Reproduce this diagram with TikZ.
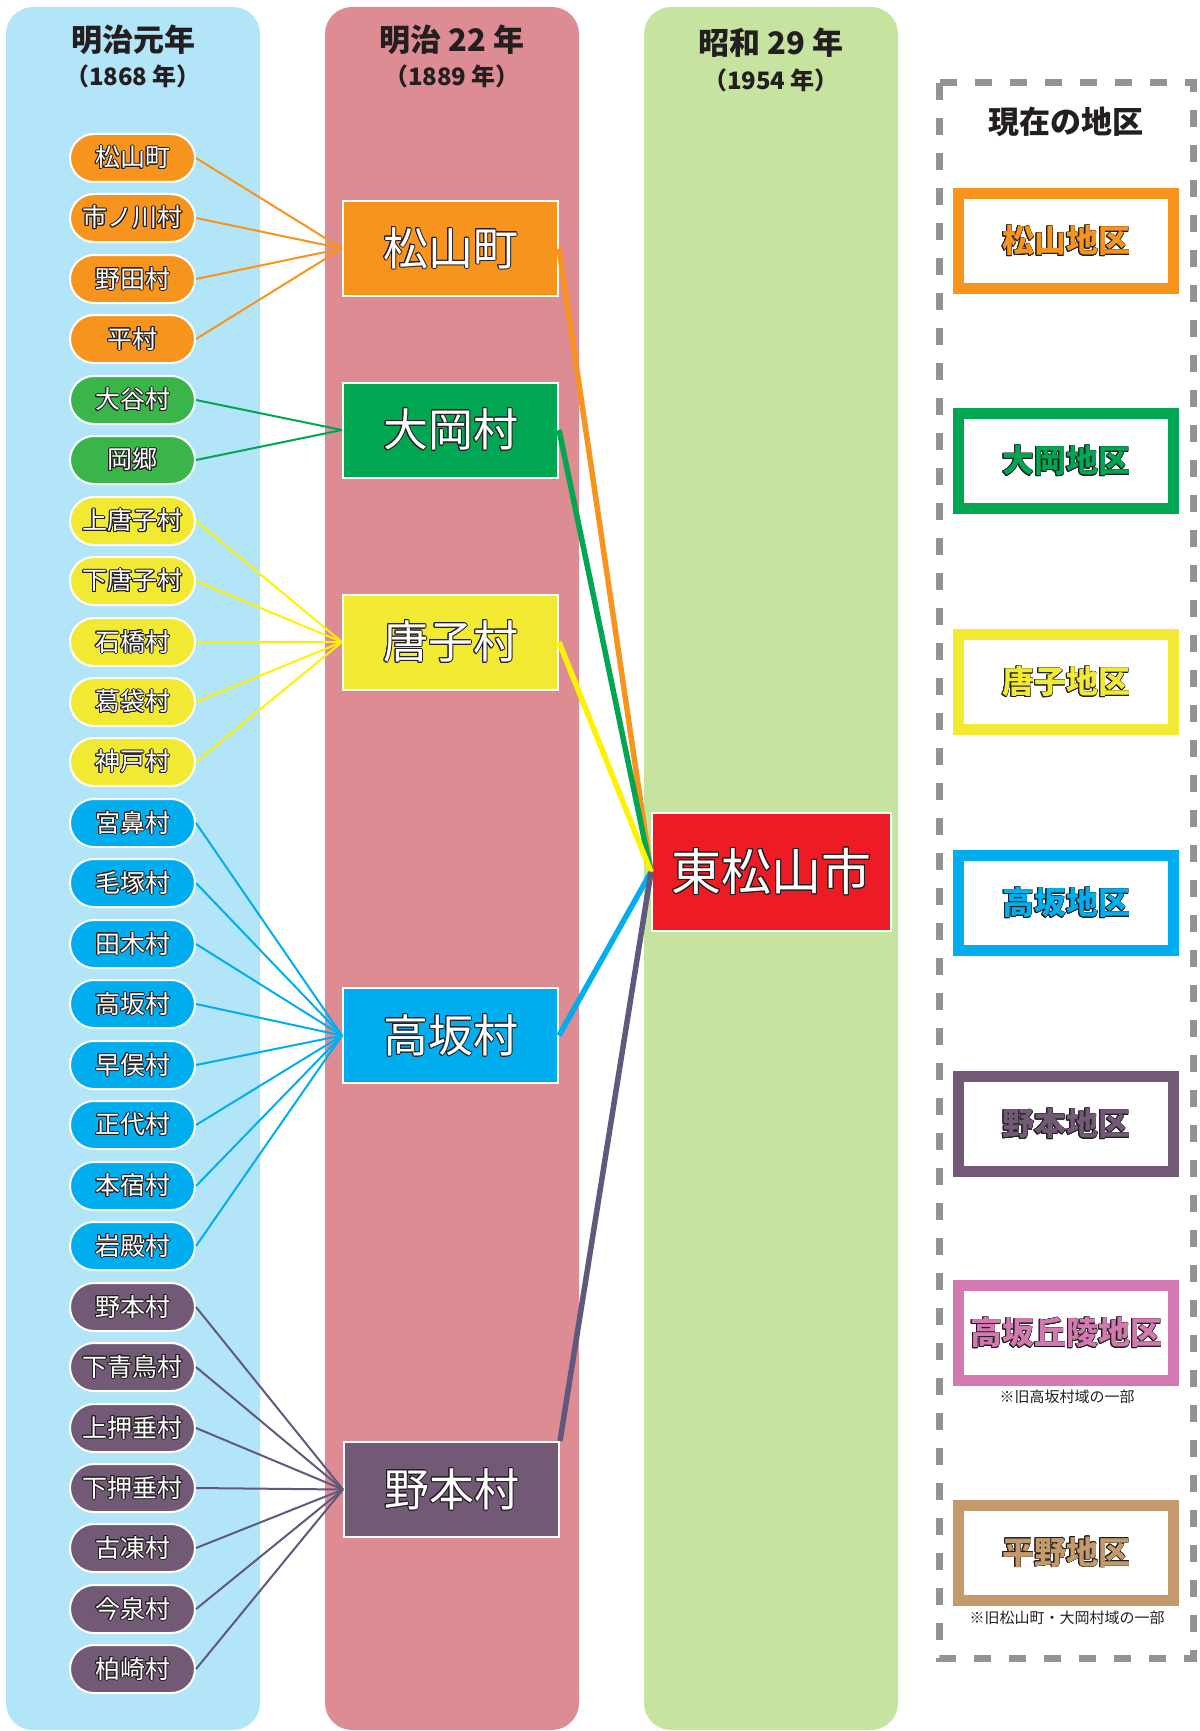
\documentclass[tikz,border=0pt]{standalone}
\usepackage{fontspec}
\setmainfont{Noto Sans CJK JP}
\usepackage{contour}
\contourlength{1pt}

\definecolor{bgBlue}{HTML}{B3E5F8}
\definecolor{bgPink}{HTML}{DE8C94}
\definecolor{bgGreen}{HTML}{C6E3A0}
\definecolor{cOrange}{HTML}{F7941D}
\definecolor{cGreen}{HTML}{3AB54A}
\definecolor{cGreenD}{HTML}{00A651}
\definecolor{cYellow}{HTML}{F2E933}
\definecolor{lYellow}{HTML}{FFF200}
\definecolor{cBlue}{HTML}{00AEEF}
\definecolor{cPurple}{HTML}{725A76}
\definecolor{lPurple}{HTML}{5F5A7D}
\definecolor{cRed}{HTML}{ED1C24}
\definecolor{cPinkD}{HTML}{D27AAF}
\definecolor{cTan}{HTML}{C49A6C}
\definecolor{dashGray}{HTML}{939393}
\definecolor{ink}{HTML}{231F20}

\newcommand{\wt}[1]{\contour{ink}{#1}}

\begin{document}
\begin{tikzpicture}[x=1pt,y=-1pt,
	vil/.style={rectangle,rounded corners=24pt,minimum width=125pt,minimum height=48pt,draw=white,line width=2pt,text=white,inner sep=0pt,font=\fontsize{25}{27}\selectfont},
	town/.style={rectangle,minimum width=215pt,minimum height=95pt,draw=white,line width=2pt,text=white,font=\fontsize{45}{48}\selectfont},
	area/.style={rectangle,minimum width=215pt,minimum height=95pt,line width=11pt,fill=white,font={\contourlength{0.6pt}\bfseries\fontsize{32}{34}\selectfont}},
	link/.style={line width=2pt},
	trunk/.style={line width=5.5pt}]
	\useasboundingbox (0,0) rectangle (1199,1731);

	% columns
	\fill[bgBlue,rounded corners=27pt] (6,7) rectangle (260,1730);
	\fill[bgPink,rounded corners=27pt] (325,7) rectangle (579,1730);
	\fill[bgGreen,rounded corners=27pt] (644,7) rectangle (898,1730);
	\draw[dashGray,line width=7pt,dash pattern=on 17pt off 18pt] (939,83) rectangle (1193,1658);

	\node (A) [ink,font=\bfseries\fontsize{31}{34}\selectfont] at (133,40) {明治元年};
	\node (a) [ink,font=\bfseries\fontsize{24}{28}\selectfont] at (133,76) {（1868 年）};
	\node (B) [ink,font=\bfseries\fontsize{31}{34}\selectfont] at (452,40) {明治 22 年};
	\node (b) [ink,font=\bfseries\fontsize{24}{28}\selectfont] at (452,76) {（1889 年）};
	\node (C) [ink,font=\bfseries\fontsize{31}{34}\selectfont] at (771,43) {昭和 29 年};
	\node (c) [ink,font=\bfseries\fontsize{24}{28}\selectfont] at (771,80) {（1954 年）};
	\node (D) [ink,font=\bfseries\fontsize{31}{34}\selectfont] at (1066,122) {現在の地区};

	% villages 1868
	\node (m1) [vil,fill=cOrange] at (132.5,158) {\wt{松山町}};
	\node (m2) [vil,fill=cOrange] at (132.5,218) {\wt{市ノ川村}};
	\node (m3) [vil,fill=cOrange] at (132.5,279) {\wt{野田村}};
	\node (m4) [vil,fill=cOrange] at (132.5,339) {\wt{平村}};
	\node (o1) [vil,fill=cGreen] at (132.5,400) {\wt{大谷村}};
	\node (o2) [vil,fill=cGreen] at (132.5,460) {\wt{岡郷}};
	\node (k1) [vil,fill=cYellow] at (132.5,521) {\wt{上唐子村}};
	\node (k2) [vil,fill=cYellow] at (132.5,581) {\wt{下唐子村}};
	\node (k3) [vil,fill=cYellow] at (132.5,642) {\wt{石橋村}};
	\node (k4) [vil,fill=cYellow] at (132.5,702) {\wt{葛袋村}};
	\node (k5) [vil,fill=cYellow] at (132.5,762) {\wt{神戸村}};
	\node (t1) [vil,fill=cBlue] at (132.5,823) {\wt{宮鼻村}};
	\node (t2) [vil,fill=cBlue] at (132.5,883) {\wt{毛塚村}};
	\node (t3) [vil,fill=cBlue] at (132.5,944) {\wt{田木村}};
	\node (t4) [vil,fill=cBlue] at (132.5,1004) {\wt{高坂村}};
	\node (t5) [vil,fill=cBlue] at (132.5,1065) {\wt{早俣村}};
	\node (t6) [vil,fill=cBlue] at (132.5,1125) {\wt{正代村}};
	\node (t7) [vil,fill=cBlue] at (132.5,1186) {\wt{本宿村}};
	\node (t8) [vil,fill=cBlue] at (132.5,1246) {\wt{岩殿村}};
	\node (n1) [vil,fill=cPurple] at (132.5,1307) {\wt{野本村}};
	\node (n2) [vil,fill=cPurple] at (132.5,1367) {\wt{下青鳥村}};
	\node (n3) [vil,fill=cPurple] at (132.5,1428) {\wt{上押垂村}};
	\node (n4) [vil,fill=cPurple] at (132.5,1488) {\wt{下押垂村}};
	\node (n5) [vil,fill=cPurple] at (132.5,1548) {\wt{古凍村}};
	\node (n6) [vil,fill=cPurple] at (132.5,1609) {\wt{今泉村}};
	\node (n7) [vil,fill=cPurple] at (132.5,1669) {\wt{柏崎村}};

	% towns 1889
	\node (M) [town,fill=cOrange] at (450.5,248.5) {\wt{松山町}};
	\node (O) [town,fill=cGreenD] at (450.5,430) {\wt{大岡村}};
	\node (K) [town,fill=cYellow] at (450.5,642) {\wt{唐子村}};
	\node (T) [town,fill=cBlue] at (450.5,1035.5) {\wt{高坂村}};
	\node (N) [town,fill=cPurple] at (451.5,1489.5) {\wt{野本村}};

	% city 1954
	\node (H) [town,fill=cRed,minimum width=239pt,minimum height=118pt,font=\fontsize{50}{54}\selectfont] at (771.5,872) {\contourlength{1.3pt}\wt{東松山市}};

	% districts
	\node (d1) [area,draw=cOrange,text=cOrange] at (1066,241) {\wt{松山地区}};
	\node (d2) [area,draw=cGreenD,text=cGreenD] at (1066,461) {\wt{大岡地区}};
	\node (d3) [area,draw=cYellow,text=cYellow] at (1066,682) {\wt{唐子地区}};
	\node (d4) [area,draw=cBlue,text=cBlue] at (1066,903) {\wt{高坂地区}};
	\node (d5) [area,draw=cPurple,text=cPurple] at (1066,1124) {\wt{野本地区}};
	\node (d6) [area,draw=cPinkD,text=cPinkD] at (1066,1333) {\wt{高坂丘陵地区}};
	\node (d7) [area,draw=cTan,text=cTan] at (1066,1552.5) {\wt{平野地区}};
	\node (e6) [ink,font=\fontsize{15}{17}\selectfont] at (1067,1397) {※旧高坂村域の一部};
	\node (e7) [ink,font=\fontsize{15}{17}\selectfont] at (1067,1618) {※旧松山町・大岡村域の一部};

	\draw [link,cOrange] (m1.east) to (M.west);
	\draw [link,cOrange] (m2.east) to (M.west);
	\draw [link,cOrange] (m3.east) to (M.west);
	\draw [link,cOrange] (m4.east) to (M.west);
	\draw [link,cGreenD] (o1.east) to (O.west);
	\draw [link,cGreenD] (o2.east) to (O.west);
	\draw [link,lYellow] (k1.east) to (K.west);
	\draw [link,lYellow] (k2.east) to (K.west);
	\draw [link,lYellow] (k3.east) to (K.west);
	\draw [link,lYellow] (k4.east) to (K.west);
	\draw [link,lYellow] (k5.east) to (K.west);
	\draw [link,cBlue] (t1.east) to (T.west);
	\draw [link,cBlue] (t2.east) to (T.west);
	\draw [link,cBlue] (t3.east) to (T.west);
	\draw [link,cBlue] (t4.east) to (T.west);
	\draw [link,cBlue] (t5.east) to (T.west);
	\draw [link,cBlue] (t6.east) to (T.west);
	\draw [link,cBlue] (t7.east) to (T.west);
	\draw [link,cBlue] (t8.east) to (T.west);
	\draw [link,lPurple] (n1.east) to (N.west);
	\draw [link,lPurple] (n2.east) to (N.west);
	\draw [link,lPurple] (n3.east) to (N.west);
	\draw [link,lPurple] (n4.east) to (N.west);
	\draw [link,lPurple] (n5.east) to (N.west);
	\draw [link,lPurple] (n6.east) to (N.west);
	\draw [link,lPurple] (n7.east) to (N.west);

	\draw [trunk,cOrange] (M.east) to (H.west);
	\draw [trunk,cGreenD] (O.east) to (H.west);
	\draw [trunk,lYellow] (K.east) to (H.west);
	\draw [trunk,cBlue] (T.east) to (H.west);
	\draw [trunk,lPurple] (N.north east) to (H.west);

\end{tikzpicture}
\end{document}
